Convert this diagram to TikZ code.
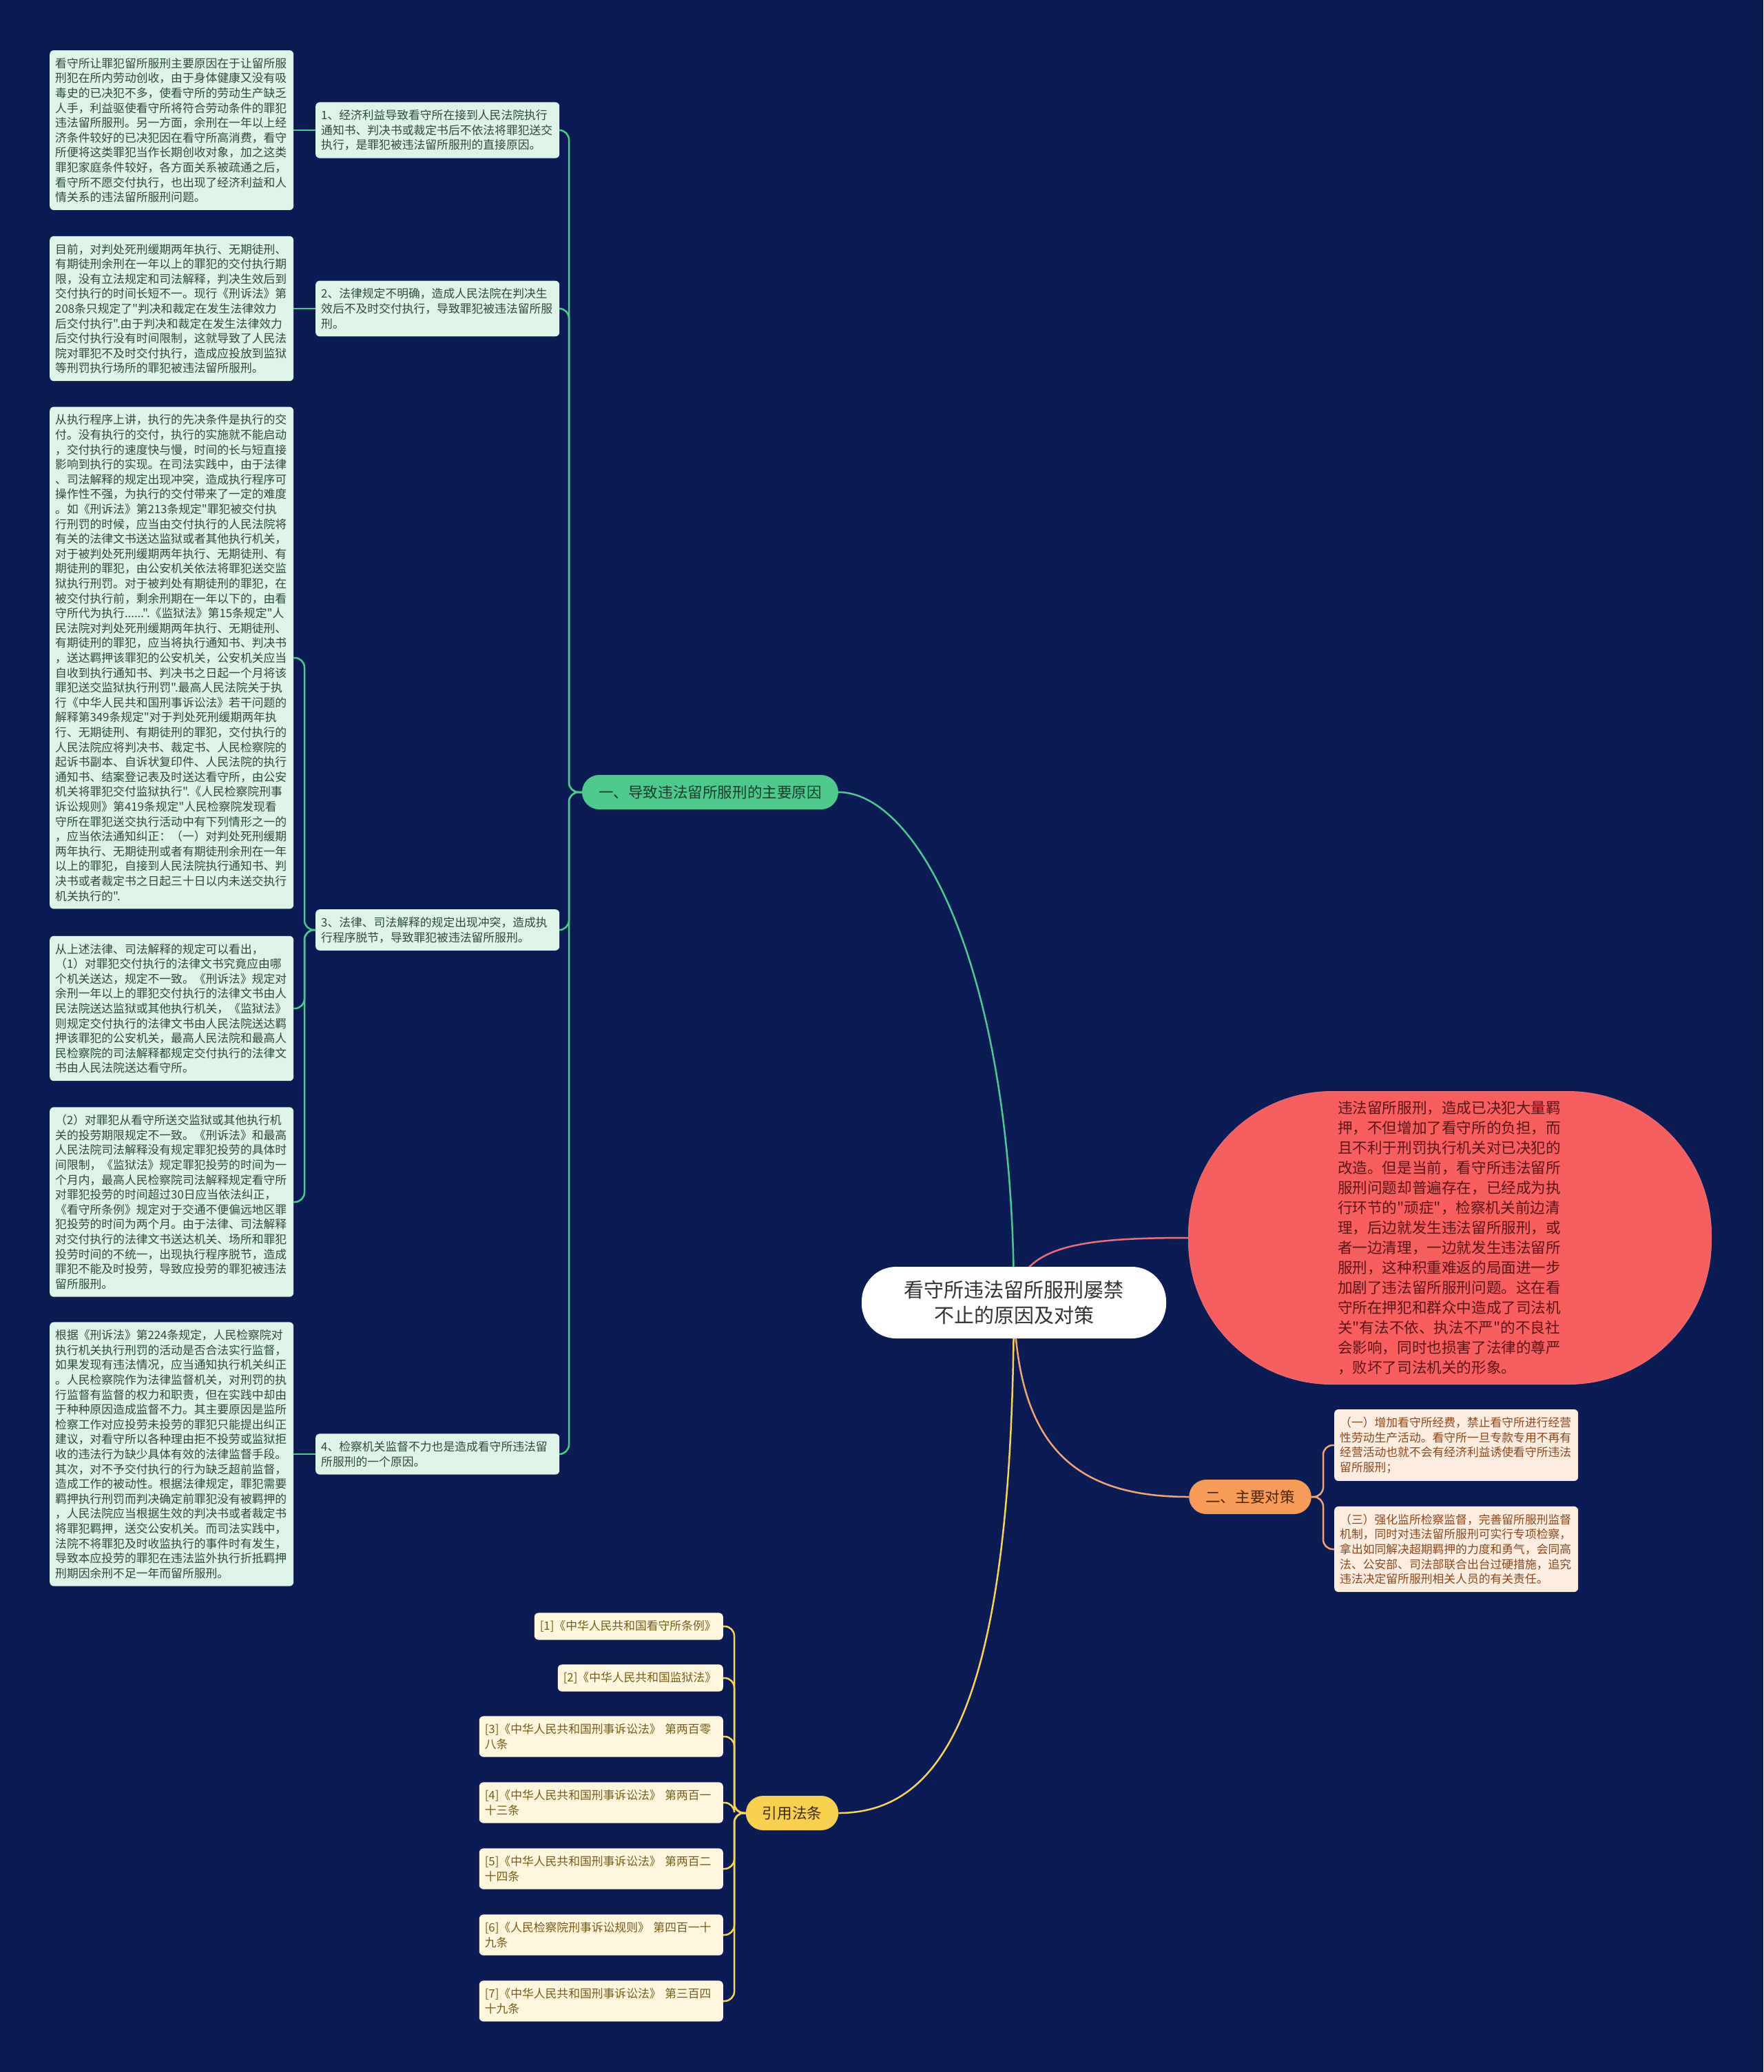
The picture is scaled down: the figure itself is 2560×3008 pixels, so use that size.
\documentclass[tikz,border=0pt]{standalone}
\usepackage{fontspec}
\setmainfont{Noto Sans CJK SC}[Ligatures=TeXOff]
\usepackage{tikz}
\pgfdeclarelayer{background}
\pgfsetlayers{background,main}

\definecolor{bgnavy}{RGB}{11,28,84}
\definecolor{leafgreen}{RGB}{222,244,233}
\definecolor{inkgreen}{RGB}{45,75,60}
\definecolor{branchgreen}{RGB}{76,201,139}
\definecolor{inkbranchgreen}{RGB}{28,60,44}
\definecolor{nodered}{RGB}{247,94,94}
\definecolor{inkred}{RGB}{90,22,22}
\definecolor{linered}{RGB}{232,110,120}
\definecolor{branchorange}{RGB}{247,155,88}
\definecolor{inkbranchorange}{RGB}{74,40,14}
\definecolor{leaforange}{RGB}{253,236,224}
\definecolor{inkorange}{RGB}{140,72,28}
\definecolor{lineorange}{RGB}{242,165,115}
\definecolor{branchyellow}{RGB}{249,207,78}
\definecolor{inkbranchyellow}{RGB}{60,46,4}
\definecolor{leafyellow}{RGB}{254,247,222}
\definecolor{inkyellow}{RGB}{120,92,20}
\definecolor{lineyellow}{RGB}{247,212,84}
\definecolor{inkcenter}{RGB}{51,51,51}

\newcommand{\leaffont}{\fontsize{16.8}{21.6}\selectfont}
\newcommand{\branchfont}{\fontsize{21.6}{26}\selectfont}
\newcommand{\redfont}{\fontsize{21.6}{29}\selectfont}
\newcommand{\centerfont}{\fontsize{29}{37.5}\selectfont}

\begin{document}
\begin{tikzpicture}[x=1pt, y=-1pt,
	leafbox/.style={rounded corners=6pt, align=left, text width=338pt, inner xsep=8pt, inner ysep=11pt, font=\leaffont},
	greenbox/.style={leafbox, fill=leafgreen, text=inkgreen, anchor=west},
	orangebox/.style={leafbox, fill=leaforange, text=inkorange, anchor=west},
	yellowbox/.style={leafbox, fill=leafyellow, text=inkyellow, anchor=east},
	branch/.style={rounded corners=25pt, minimum height=50pt, inner xsep=24pt, inner ysep=0pt, font=\branchfont},
	gline/.style={draw=branchgreen, line width=2.5pt},
	oline/.style={draw=lineorange, line width=2.5pt},
	yline/.style={draw=lineyellow, line width=2.5pt},
	rline/.style={draw=linered, line width=2.5pt},
	fork/.style={rounded corners=14pt}]
	\useasboundingbox (0,0) rectangle (2560,3008);

	\node[fill=white, text=inkcenter, rounded corners=50pt, minimum width=442pt, minimum height=104pt, align=center, font=\centerfont] (c) at (1472,1891) {看守所违法留所服刑屡禁\\不止的原因及对策};

	\node[branch, fill=branchgreen, text=inkbranchgreen] (g1) at (1031,1150) {一、导致违法留所服刑的主要原因};
	\node[branch, fill=branchorange, text=inkbranchorange] (ob) at (1815,2173) {二、主要对策};
	\node[branch, fill=branchyellow, text=inkbranchyellow] (yb) at (1150,2632) {引用法条};

	\node[fill=nodered, draw=linered, line width=1pt, text=inkred, rounded corners=208pt, minimum width=759pt, minimum height=425pt, text width=326pt, inner sep=0pt, align=left, font=\redfont] (r) at (2105,1797) {违法留所服刑，造成已决犯大量羁\\
押，不但增加了看守所的负担，而\\
且不利于刑罚执行机关对已决犯的\\
改造。但是当前，看守所违法留所\\
服刑问题却普遍存在，已经成为执\\
行环节的"顽症"，检察机关前边清\\
理，后边就发生违法留所服刑，或\\
者一边清理，一边就发生违法留所\\
服刑，这种积重难返的局面进一步\\
加剧了违法留所服刑问题。这在看\\
守所在押犯和群众中造成了司法机\\
关"有法不依、执法不严"的不良社\\
会影响，同时也损害了法律的尊严\\
，败坏了司法机关的形象。};

	\node[greenbox] (m1) at (458,189) {1、经济利益导致看守所在接到人民法院执行\\
通知书、判决书或裁定书后不依法将罪犯送交\\
执行，是罪犯被违法留所服刑的直接原因。};
	\node[greenbox] (m2) at (458,448) {2、法律规定不明确，造成人民法院在判决生\\
效后不及时交付执行，导致罪犯被违法留所服\\
刑。};
	\node[greenbox] (m3) at (458,1350) {3、法律、司法解释的规定出现冲突，造成执\\
行程序脱节，导致罪犯被违法留所服刑。};
	\node[greenbox] (m4) at (458,2111) {4、检察机关监督不力也是造成看守所违法留\\
所服刑的一个原因。};

	\node[greenbox] (l11) at (72,189) {看守所让罪犯留所服刑主要原因在于让留所服\\
刑犯在所内劳动创收，由于身体健康又没有吸\\
毒史的已决犯不多，使看守所的劳动生产缺乏\\
人手，利益驱使看守所将符合劳动条件的罪犯\\
违法留所服刑。另一方面，余刑在一年以上经\\
济条件较好的已决犯因在看守所高消费，看守\\
所便将这类罪犯当作长期创收对象，加之这类\\
罪犯家庭条件较好，各方面关系被疏通之后，\\
看守所不愿交付执行，也出现了经济利益和人\\
情关系的违法留所服刑问题。};
	\node[greenbox] (l21) at (72,448) {目前，对判处死刑缓期两年执行、无期徒刑、\\
有期徒刑余刑在一年以上的罪犯的交付执行期\\
限，没有立法规定和司法解释，判决生效后到\\
交付执行的时间长短不一。现行《刑诉法》第\\
208条只规定了"判决和裁定在发生法律效力\\
后交付执行".由于判决和裁定在发生法律效力\\
后交付执行没有时间限制，这就导致了人民法\\
院对罪犯不及时交付执行，造成应投放到监狱\\
等刑罚执行场所的罪犯被违法留所服刑。};
	\node[greenbox] (l31) at (72,955) {从执行程序上讲，执行的先决条件是执行的交\\
付。没有执行的交付，执行的实施就不能启动\\
，交付执行的速度快与慢，时间的长与短直接\\
影响到执行的实现。在司法实践中，由于法律\\
、司法解释的规定出现冲突，造成执行程序可\\
操作性不强，为执行的交付带来了一定的难度\\
。如《刑诉法》第213条规定"罪犯被交付执\\
行刑罚的时候，应当由交付执行的人民法院将\\
有关的法律文书送达监狱或者其他执行机关，\\
对于被判处死刑缓期两年执行、无期徒刑、有\\
期徒刑的罪犯，由公安机关依法将罪犯送交监\\
狱执行刑罚。对于被判处有期徒刑的罪犯，在\\
被交付执行前，剩余刑期在一年以下的，由看\\
守所代为执行......".《监狱法》第15条规定"人\\
民法院对判处死刑缓期两年执行、无期徒刑、\\
有期徒刑的罪犯，应当将执行通知书、判决书\\
，送达羁押该罪犯的公安机关，公安机关应当\\
自收到执行通知书、判决书之日起一个月将该\\
罪犯送交监狱执行刑罚".最高人民法院关于执\\
行《中华人民共和国刑事诉讼法》若干问题的\\
解释第349条规定"对于判处死刑缓期两年执\\
行、无期徒刑、有期徒刑的罪犯，交付执行的\\
人民法院应将判决书、裁定书、人民检察院的\\
起诉书副本、自诉状复印件、人民法院的执行\\
通知书、结案登记表及时送达看守所，由公安\\
机关将罪犯交付监狱执行".《人民检察院刑事\\
诉讼规则》第419条规定"人民检察院发现看\\
守所在罪犯送交执行活动中有下列情形之一的\\
，应当依法通知纠正：（一）对判处死刑缓期\\
两年执行、无期徒刑或者有期徒刑余刑在一年\\
以上的罪犯，自接到人民法院执行通知书、判\\
决书或者裁定书之日起三十日以内未送交执行\\
机关执行的".};
	\node[greenbox] (l32) at (72,1464) {从上述法律、司法解释的规定可以看出，\\
（1）对罪犯交付执行的法律文书究竟应由哪\\
个机关送达，规定不一致。《刑诉法》规定对\\
余刑一年以上的罪犯交付执行的法律文书由人\\
民法院送达监狱或其他执行机关，《监狱法》\\
则规定交付执行的法律文书由人民法院送达羁\\
押该罪犯的公安机关，最高人民法院和最高人\\
民检察院的司法解释都规定交付执行的法律文\\
书由人民法院送达看守所。};
	\node[greenbox] (l33) at (72,1745) {（2）对罪犯从看守所送交监狱或其他执行机\\
关的投劳期限规定不一致。《刑诉法》和最高\\
人民法院司法解释没有规定罪犯投劳的具体时\\
间限制，《监狱法》规定罪犯投劳的时间为一\\
个月内，最高人民检察院司法解释规定看守所\\
对罪犯投劳的时间超过30日应当依法纠正，\\
《看守所条例》规定对于交通不便偏远地区罪\\
犯投劳的时间为两个月。由于法律、司法解释\\
对交付执行的法律文书送达机关、场所和罪犯\\
投劳时间的不统一，出现执行程序脱节，造成\\
罪犯不能及时投劳，导致应投劳的罪犯被违法\\
留所服刑。};
	\node[greenbox] (l41) at (72,2111) {根据《刑诉法》第224条规定，人民检察院对\\
执行机关执行刑罚的活动是否合法实行监督，\\
如果发现有违法情况，应当通知执行机关纠正\\
。人民检察院作为法律监督机关，对刑罚的执\\
行监督有监督的权力和职责，但在实践中却由\\
于种种原因造成监督不力。其主要原因是监所\\
检察工作对应投劳未投劳的罪犯只能提出纠正\\
建议，对看守所以各种理由拒不投劳或监狱拒\\
收的违法行为缺少具体有效的法律监督手段。\\
其次，对不予交付执行的行为缺乏超前监督，\\
造成工作的被动性。根据法律规定，罪犯需要\\
羁押执行刑罚而判决确定前罪犯没有被羁押的\\
，人民法院应当根据生效的判决书或者裁定书\\
将罪犯羁押，送交公安机关。而司法实践中，\\
法院不将罪犯及时收监执行的事件时有发生，\\
导致本应投劳的罪犯在违法监外执行折抵羁押\\
刑期因余刑不足一年而留所服刑。};

	\node[orangebox] (o1) at (1937,2098) {（一）增加看守所经费，禁止看守所进行经营\\
性劳动生产活动。看守所一旦专款专用不再有\\
经营活动也就不会有经济利益诱使看守所违法\\
留所服刑；};
	\node[orangebox] (o2) at (1937,2249) {（三）强化监所检察监督，完善留所服刑监督\\
机制，同时对违法留所服刑可实行专项检察，\\
拿出如同解决超期羁押的力度和勇气，会同高\\
法、公安部、司法部联合出台过硬措施，追究\\
违法决定留所服刑相关人员的有关责任。};

	\node[yellowbox, text width=258pt] (ref1) at (1050,2361) {[1]《中华人民共和国看守所条例》};
	\node[yellowbox, text width=224pt] (ref2) at (1050,2436) {[2]《中华人民共和国监狱法》};
	\node[yellowbox] (ref3) at (1050,2521) {[3]《中华人民共和国刑事诉讼法》 第两百零\\八条};
	\node[yellowbox] (ref4) at (1050,2617) {[4]《中华人民共和国刑事诉讼法》 第两百一\\十三条};
	\node[yellowbox] (ref5) at (1050,2713) {[5]《中华人民共和国刑事诉讼法》 第两百二\\十四条};
	\node[yellowbox] (ref6) at (1050,2809) {[6]《人民检察院刑事诉讼规则》 第四百一十\\九条};
	\node[yellowbox] (ref7) at (1050,2905) {[7]《中华人民共和国刑事诉讼法》 第三百四\\十九条};

	\coordinate (tg) at (826,1150);
	\coordinate (t3) at (442,1350);
	\coordinate (to) at (1921,2173);
	\coordinate (ty) at (1066,2632);

	\begin{pgfonlayer}{background}
		\fill[bgnavy] (0,0) rectangle (2560,3008);
		\draw[gline] (c.center) .. controls (1472,1400) and (1330,1150) .. (g1.east);
		\draw[rline] (c.center) .. controls (1480,1810) and (1560,1797) .. (r.west);
		\draw[oline] (c.center) .. controls (1476,2100) and (1560,2173) .. (ob.west);
		\draw[yline] (c.center) .. controls (1470,2450) and (1380,2632) .. (yb.east);
	\end{pgfonlayer}

	\foreach \m in {m1,m2,m3,m4}
		\draw[gline, fork] (\m.east) -| (tg) -- (g1.west);
	\draw[gline] (l11.east) -- (m1.west);
	\draw[gline] (l21.east) -- (m2.west);
	\draw[gline] (l41.east) -- (m4.west);
	\foreach \l in {l31,l32,l33}
		\draw[gline, fork] (\l.east) -| (t3) -- (m3.west);
	\foreach \o in {o1,o2}
		\draw[oline, fork] (\o.west) -| (to) -- (ob.east);
	\foreach \r in {ref1,ref2,ref3,ref4,ref5,ref6,ref7}
		\draw[yline, fork] (\r.east) -| (ty) -- (yb.west);
\end{tikzpicture}
\end{document}
